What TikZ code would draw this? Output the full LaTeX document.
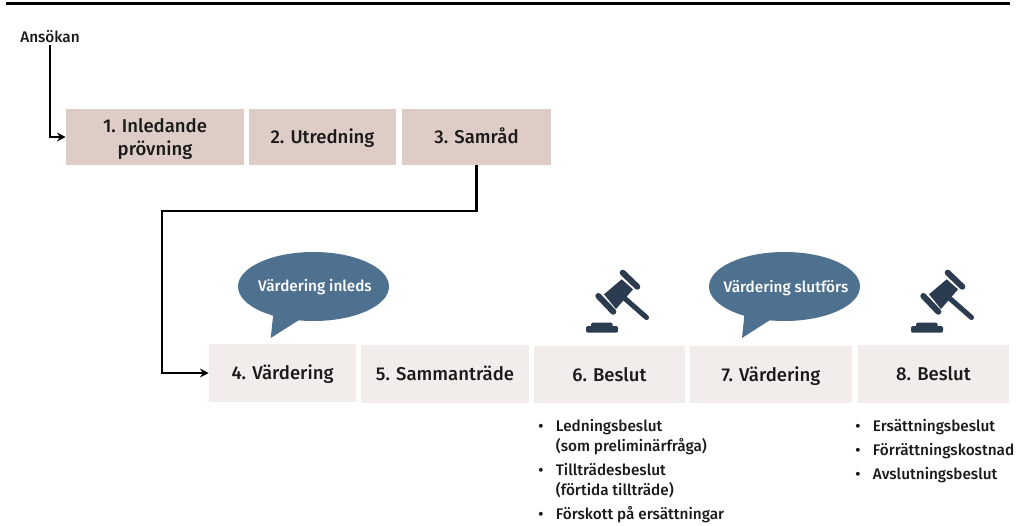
\documentclass[tikz,border=0pt]{standalone}
\usepackage{fontspec}
\setmainfont{Fira Sans Medium}
\usetikzlibrary{arrows.meta}
\definecolor{boxa}{HTML}{DDCDC6}
\definecolor{boxb}{HTML}{F2EDEB}
\definecolor{bub}{HTML}{4F7190}
\definecolor{gav}{HTML}{2B3B50}
\definecolor{txt}{HTML}{1A1A1A}
\newcommand{\bl}{\makebox[13.2pt][l]{•}}
\newcommand{\ind}{\hspace*{13.2pt}}
\newcommand{\st}{\rule[-3.4pt]{0pt}{17pt}}
\tikzset{
 x=.75pt,y=-.75pt,
 conn/.style={line width=1.85pt,-{Stealth[length=6.5pt,width=6.5pt]},black},
 procbox/.style={anchor=center,inner sep=0pt,font=\fontsize{13.9}{17}\selectfont,text=txt,align=center},
 bubtext/.style={text=white,font=\fontsize{11.5}{13}\selectfont,inner sep=0pt},
 listtext/.style={anchor=west,inner sep=0pt,text=txt,font=\fontsize{11.5}{15}\selectfont,align=left},
 pics/gavel/.style={code={
  \fill[gav,rounded corners=1.5pt] (-14,36) rectangle (18,42.7);
  \fill[gav,rounded corners=1pt] (-9,32.7) rectangle (12.7,38);
  \fill[gav] (21.7,-10.7) -- (33,-.7) -- (16,19) -- (4,4.3) -- cycle;
  \draw[gav,line width=4.5pt,line cap=round] (22.7,-17.3) -- (37.3,-3.3);
  \draw[gav,line width=4.5pt,line cap=round] (-1.7,6) -- (13.3,21.7);
  \draw[gav,line width=3.8pt,line cap=round] (22,6) -- (46.5,27.5);
 }}
}
\begin{document}
\begin{tikzpicture}
\useasboundingbox (0,0) rectangle (1016,525);
\fill[white] (0,0) rectangle (1016,525);
\fill[black] (6,2.3) rectangle (1010,4.8);
\node[inner sep=1pt,text=txt,font=\fontsize{11.5}{13}\selectfont] (ans) at (50,37) {Ansökan};
\foreach \n/\xa/\xb/\ya/\yb/\c/\t in {
 b1/66/244/109/165/boxa/{\st 1. Inledande\\\st prövning},
 b2/249/396/109/165/boxa/{\st 2. Utredning},
 b3/402/551/109/165/boxa/{\st 3. Samråd},
 b4/209/356/344/402/boxb/{\st 4. Värdering},
 b5/361/529/345/403/boxb/{\st 5. Sammanträde},
 b6/534/685/346/403/boxb/{\st 6. Beslut},
 b7/690/852/346/403/boxb/{\st 7. Värdering},
 b8/858/1009/345/403/boxb/{\st 8. Beslut}}{
  \node[procbox,fill=\c,minimum width={(\xb-\xa)*.75pt},minimum height={(\yb-\ya)*.75pt}] (\n) at ({(\xa+\xb)/2},{(\ya+\yb)/2}) {\t};
}
\coordinate (k) at (162,211);
\draw[conn] (ans.south) |- (b1.west);
\draw[conn] (b3.south) |- (k) |- (b4.west);
\fill[bub] (313.5,286.5) ellipse [x radius=75.5,y radius=34.5];
\fill[bub] (273.3,314) -- (270.7,338) -- (299,320) -- cycle;
\node[bubtext] (v1) at (315,287) {Värdering inleds};
\fill[bub] (784.5,286.5) ellipse [x radius=75.5,y radius=34.5];
\fill[bub] (744.5,314) -- (742,338) -- (770,320) -- cycle;
\node[bubtext] (v2) at (786,288) {Värdering slutförs};
\pic at (600,290) {gavel};
\pic at (925,290) {gavel};
\node[listtext] (l1) at (538,437) {\bl Ledningsbeslut\\\ind (som preliminärfråga)};
\node[listtext] (l2) at (538,481) {\bl Tillträdesbeslut\\\ind (förtida tillträde)};
\node[listtext] (l3) at (538,515) {\bl Förskott på ersättningar};
\node[listtext] (r1) at (855,427) {\bl Ersättningsbeslut};
\node[listtext] (r2) at (855,451) {\bl Förrättningskostnad};
\node[listtext] (r3) at (855,475) {\bl Avslutningsbeslut};
\end{tikzpicture}
\end{document}
